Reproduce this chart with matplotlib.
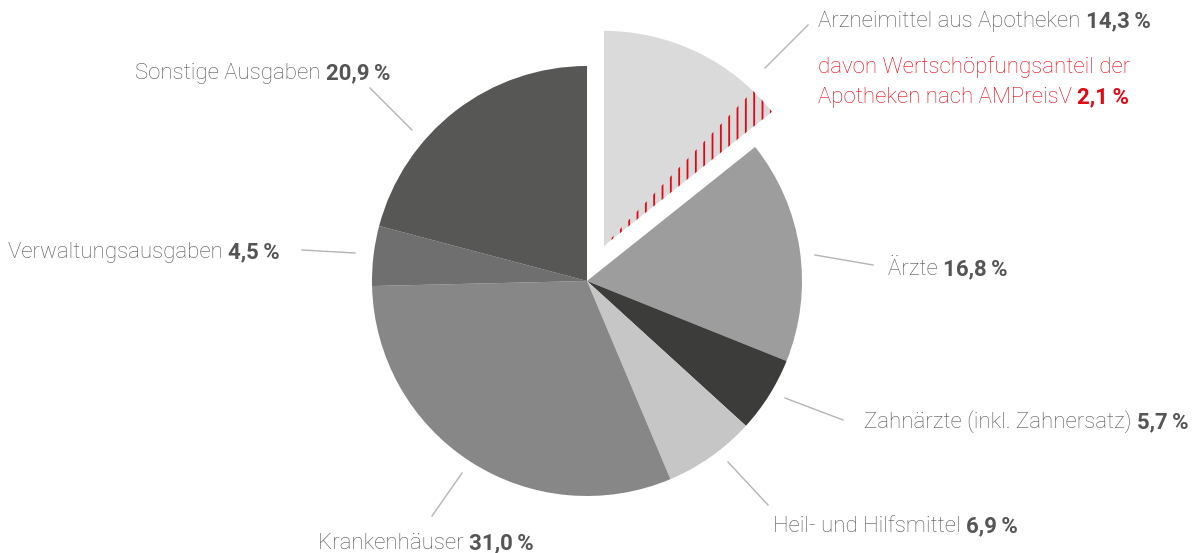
import matplotlib.pyplot as plt
from matplotlib.patches import Wedge

plt.rcParams['hatch.linewidth'] = 1.3

# data, clockwise from the top
labels = ['Arzneimittel aus Apotheken', 'Ärzte', 'Zahnärzte (inkl. Zahnersatz)',
          'Heil- und Hilfsmittel', 'Krankenhäuser', 'Verwaltungsausgaben',
          'Sonstige Ausgaben']
values = [14.3, 16.8, 5.7, 6.9, 31.0, 4.5, 20.9]
value_labels = ['14,3\u2009%', '16,8\u2009%', '5,7\u2009%', '6,9\u2009%',
                '31,0\u2009%', '4,5\u2009%', '20,9\u2009%']
colors = ['#dadada', '#9d9d9d', '#3c3c3b', '#c6c6c6', '#878787', '#6f6f6f', '#575756']
pharmacy_share = 2.1
pharmacy_text = ['davon Wertschöpfungsanteil der', 'Apotheken nach AMPreisV']
pharmacy_label = '2,1\u2009%'

W, H = 1197, 553
TEXT = '#555555'
RED = '#e30613'
LINE = '#b4b4b4'
FONT = ['Roboto', 'DejaVu Sans']
FS = 16

fig = plt.figure(figsize=(W / 100, H / 100), dpi=100)
ax = fig.add_axes([0, 0, 1, 1])

center = (587, H - 281)
radius = 215

# explode is in data units here (pixels)
wedges, _ = ax.pie(values, colors=colors, startangle=90, counterclock=False,
                   explode=[39, 0, 0, 0, 0, 0, 0], center=center, radius=radius,
                   wedgeprops=dict(linewidth=0), frame=True)
ax.set_xlim(0, W)
ax.set_ylim(0, H)
ax.set_aspect('equal')
ax.axis('off')

# hatched part of the pharmacy slice (on the clockwise edge)
w0 = wedges[0]
span = pharmacy_share / sum(values) * 360
ax.add_patch(Wedge(w0.center, radius, w0.theta1, w0.theta1 + span,
                   facecolor='none', edgecolor=RED, linewidth=0, hatch='||'))

renderer = fig.canvas.get_renderer()


def width_of(t):
    bb = t.get_window_extent(renderer=renderer)
    return bb.width


def label(x, y, normal, bold, ha='left', color=TEXT, bold_color=None):
    # x, y in image pixels, y is the baseline
    y = H - y
    t1 = ax.text(x, y, normal + ' ', fontsize=FS, family=FONT, weight='light',
                 color=color, va='baseline', ha='left')
    t2 = ax.text(x, y, bold, fontsize=FS, family=FONT, weight='bold',
                 color=bold_color or color, va='baseline', ha='left')
    w1, w2 = width_of(t1), width_of(t2)
    if ha == 'right':
        x0 = x - w1 - w2
    elif ha == 'center':
        x0 = x - (w1 + w2) / 2
    else:
        x0 = x
    t1.set_x(x0)
    t2.set_x(x0 + w1)


def leader(x1, y1, x2, y2):
    ax.plot([x1, x2], [H - y1, H - y2], color=LINE, linewidth=1)


# leader lines
leader(765, 68, 808, 25)
leader(815, 255, 873, 265)
leader(785, 398, 843, 420)
leader(728, 462, 768, 505)
leader(462, 473, 432, 516)
leader(302, 250, 355, 253)
leader(370, 88, 412, 130)

label(818, 27, labels[0], value_labels[0])
label(888, 275, labels[1], value_labels[1])
label(864, 428, labels[2], value_labels[2])
label(773, 532, labels[3], value_labels[3])
label(426, 549, labels[4], value_labels[4], ha='center')
label(280, 258, labels[5], value_labels[5], ha='right')
label(390, 79, labels[6], value_labels[6], ha='right')

ax.text(818, H - 73, pharmacy_text[0], fontsize=FS, family=FONT, weight='light',
        color=RED, va='baseline', ha='left')
label(818, 103, pharmacy_text[1], pharmacy_label, color=RED)

fig.savefig('out.png', dpi=100)
